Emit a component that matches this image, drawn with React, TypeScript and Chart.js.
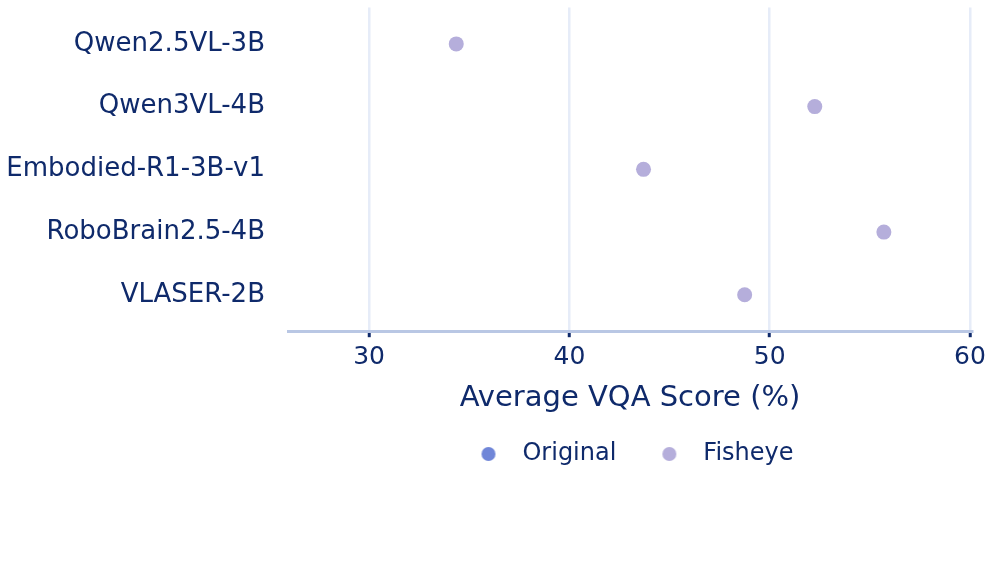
import React, { useEffect, useRef } from "react";
import { Chart, registerables } from "chart.js";

Chart.register(...registerables);

const models = ["Qwen2.5VL-3B", "Qwen3VL-4B", "Embodied-R1-3B-v1", "RoboBrain2.5-4B", "VLASER-2B"];
const originalScores: (number | null)[] = [null, null, null, null, null];
const fisheyeScores = [34.35, 52.25, 43.7, 55.7, 48.75];
const xTicks = [30, 40, 50, 60];
const seriesNames = ["Original", "Fisheye"];

const TEXT = "#0f2a6b";
const FONT = "'DejaVu Sans', sans-serif";
const ORIG_COLOR = "#7086d8";
const FISH_COLOR = "#b5aedb";

function circleImage(color: string, r: number) {
  const c = document.createElement("canvas");
  const s = Math.ceil(r * 2 + 2);
  c.width = s;
  c.height = s;
  const ctx = c.getContext("2d")!;
  ctx.fillStyle = color;
  ctx.beginPath();
  ctx.arc(s / 2, s / 2, r, 0, Math.PI * 2);
  ctx.fill();
  return c;
}

export default function App() {
  const ref = useRef<HTMLCanvasElement>(null);
  useEffect(() => {
    if (!ref.current) return;
    const chart = new Chart(ref.current, {
      type: "scatter",
      data: {
        datasets: [
          {
            label: seriesNames[0],
            data: originalScores.map((v, i) => ({ x: v as any, y: i })),
            backgroundColor: ORIG_COLOR,
            borderWidth: 0,
            pointRadius: 7.5,
          },
          {
            label: seriesNames[1],
            data: fisheyeScores.map((v, i) => ({ x: v, y: i })),
            backgroundColor: FISH_COLOR,
            borderWidth: 0,
            pointRadius: 7.5,
          },
        ],
      },
      options: {
        animation: false,
        responsive: false,
        maintainAspectRatio: false,
        layout: { padding: { left: 0, right: 22, top: 6, bottom: 102 } },
        plugins: {
          tooltip: { enabled: false },
          legend: {
            position: "bottom",
            fullSize: false,
            labels: {
              usePointStyle: true,
              pointStyleWidth: 44,
              boxHeight: 14,
              padding: 31,
              color: TEXT,
              font: { family: FONT, size: 24 },
              generateLabels: (ch: any) => {
                const items = Chart.defaults.plugins.legend.labels.generateLabels(ch);
                return items.map((it: any, i: number) => ({
                  ...it,
                  pointStyle: circleImage(i === 0 ? ORIG_COLOR : FISH_COLOR, 7),
                }));
              },
            },
          },
        },
        scales: {
          x: {
            type: "linear",
            min: 25.95,
            max: 60.1,
            afterBuildTicks: (s: any) => {
              s.ticks = xTicks.map((v) => ({ value: v }));
            },
            afterFit: (s: any) => {
              s.paddingLeft = 0;
              s.paddingRight = 0;
            },
            grid: {
              color: "#e6ecf8",
              lineWidth: 2.5,
              drawTicks: true,
              tickLength: 6,
              tickColor: TEXT,
              tickWidth: 3,
            },
            border: { display: true, color: "#b9c7e4", width: 3 },
            ticks: {
              color: TEXT,
              font: { family: FONT, size: 25 },
              padding: 5,
              maxRotation: 0,
            },
            title: {
              display: true,
              text: "Average VQA Score (%)",
              color: TEXT,
              font: { family: FONT, size: 29 },
              padding: { top: 4, bottom: -5 },
            },
          },
          y: {
            type: "linear",
            reverse: true,
            min: -0.58,
            max: 4.58,
            afterBuildTicks: (s: any) => {
              s.ticks = models.map((_, i) => ({ value: i }));
            },
            afterFit: (s: any) => {
              s.width = 288;
              s.paddingTop = 0;
              s.paddingBottom = 0;
            },
            grid: { display: false, drawTicks: false },
            border: { display: false },
            ticks: {
              color: TEXT,
              font: { family: FONT, size: 26 },
              padding: 23,
              callback: (v: any) => models[v as number] ?? "",
            },
          },
        },
      },
    });
    return () => chart.destroy();
  }, []);
  return (
    <div style={{ position: "fixed", left: 0, top: 0, width: 994, height: 578, background: "#fff" }}>
      <canvas ref={ref} width={994} height={578} style={{ width: 994, height: 578 }} />
    </div>
  );
}
